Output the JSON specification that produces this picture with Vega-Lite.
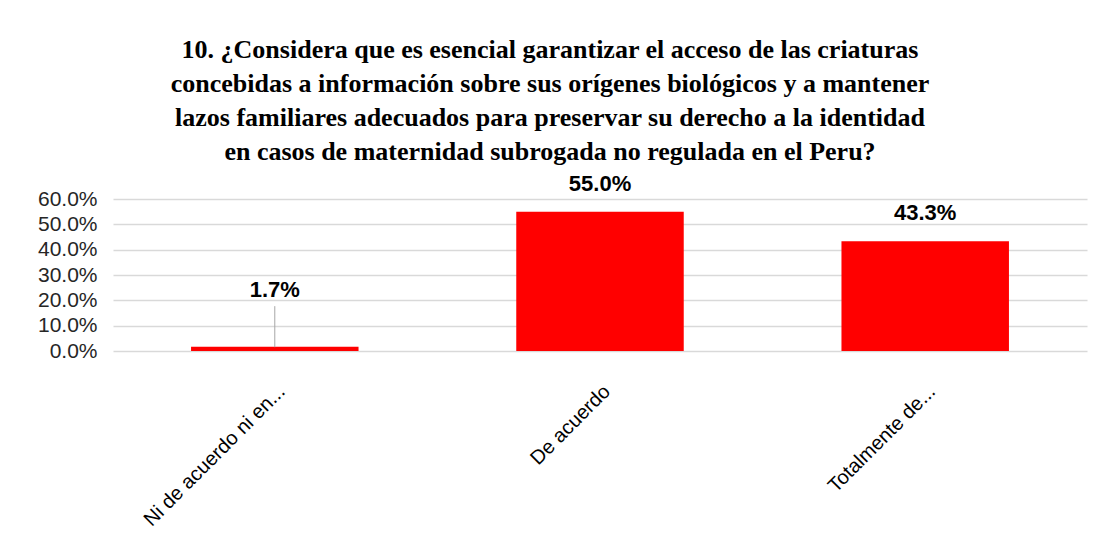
{
  "$schema": "https://vega.github.io/schema/vega-lite/v6.json",
  "width": 974,
  "height": 152,
  "autosize": {"type": "none"},
  "padding": {"left": 113, "top": 199, "right": 15, "bottom": 189},
  "background": "white",
  "title": {
    "text": [
      "10. ¿Considera que es esencial garantizar el acceso de las criaturas",
      "concebidas a información sobre sus orígenes biológicos y a mantener",
      "lazos familiares adecuados para preservar su derecho a la identidad",
      "en casos de maternidad subrogada no regulada en el Peru?"
    ],
    "font": "Liberation Serif",
    "fontSize": 26,
    "fontWeight": "bold",
    "color": "#000000",
    "lineHeight": 34,
    "anchor": "middle",
    "offset": 8,
    "dx": -50
  },
  "config": {"view": {"stroke": null}},
  "data": {
    "values": [
      {"categoria": "Ni de acuerdo ni en...", "porcentaje": 0.017},
      {"categoria": "De acuerdo", "porcentaje": 0.55},
      {"categoria": "Totalmente de...", "porcentaje": 0.433}
    ]
  },
  "encoding": {
    "x": {
      "field": "categoria",
      "type": "nominal",
      "sort": null,
      "scale": {"paddingInner": 0.485, "paddingOuter": 0.24},
      "axis": {
        "title": null,
        "labelAngle": -45,
        "labelFont": "Liberation Sans",
        "labelFontSize": 20,
        "labelColor": "#000000",
        "labelPadding": 30,
        "labelLimit": 400,
        "domain": false,
        "ticks": false,
        "grid": false
      }
    },
    "y": {
      "field": "porcentaje",
      "type": "quantitative",
      "scale": {"domain": [0, 0.6], "nice": false},
      "axis": {
        "title": null,
        "values": [0, 0.1, 0.2, 0.3, 0.4, 0.5, 0.6],
        "format": ".1%",
        "labelFont": "Liberation Sans",
        "labelFontSize": 21,
        "labelColor": "#262626",
        "labelPadding": 16,
        "labelOverlap": false,
        "labelFlush": false,
        "domain": false,
        "ticks": false,
        "gridColor": "#d9d9d9",
        "gridWidth": 1.5
      }
    }
  },
  "layer": [
    {
      "mark": {"type": "bar", "color": "#ff0000"}
    },
    {
      "transform": [{"filter": "datum.categoria != 'Ni de acuerdo ni en...'"}],
      "mark": {"type": "text", "font": "Liberation Sans", "fontSize": 22, "fontWeight": "bold", "color": "#000000", "baseline": "middle", "dy": -28},
      "encoding": {
        "text": {"field": "porcentaje", "type": "quantitative", "format": ".1%"}
      }
    },
    {
      "transform": [{"filter": "datum.categoria == 'Ni de acuerdo ni en...'"}],
      "mark": {"type": "rule", "color": "#a6a6a6", "strokeWidth": 1},
      "encoding": {
        "y": {
          "datum": 0.015,
          "type": "quantitative",
          "axis": {
            "title": null,
            "values": [0, 0.1, 0.2, 0.3, 0.4, 0.5, 0.6],
            "format": ".1%",
            "labelFont": "Liberation Sans",
            "labelFontSize": 21,
            "labelColor": "#262626",
            "labelPadding": 16,
            "labelOverlap": false,
            "labelFlush": false,
            "domain": false,
            "ticks": false,
            "gridColor": "#d9d9d9",
            "gridWidth": 1.5
          }
        },
        "y2": {"datum": 0.177}
      }
    },
    {
      "transform": [{"filter": "datum.categoria == 'Ni de acuerdo ni en...'"}],
      "mark": {"type": "text", "font": "Liberation Sans", "fontSize": 22, "fontWeight": "bold", "color": "#000000", "baseline": "middle"},
      "encoding": {
        "y": {
          "datum": 0.24,
          "type": "quantitative",
          "axis": {
            "title": null,
            "values": [0, 0.1, 0.2, 0.3, 0.4, 0.5, 0.6],
            "format": ".1%",
            "labelFont": "Liberation Sans",
            "labelFontSize": 21,
            "labelColor": "#262626",
            "labelPadding": 16,
            "labelOverlap": false,
            "labelFlush": false,
            "domain": false,
            "ticks": false,
            "gridColor": "#d9d9d9",
            "gridWidth": 1.5
          }
        },
        "text": {"field": "porcentaje", "type": "quantitative", "format": ".1%"}
      }
    }
  ]
}
